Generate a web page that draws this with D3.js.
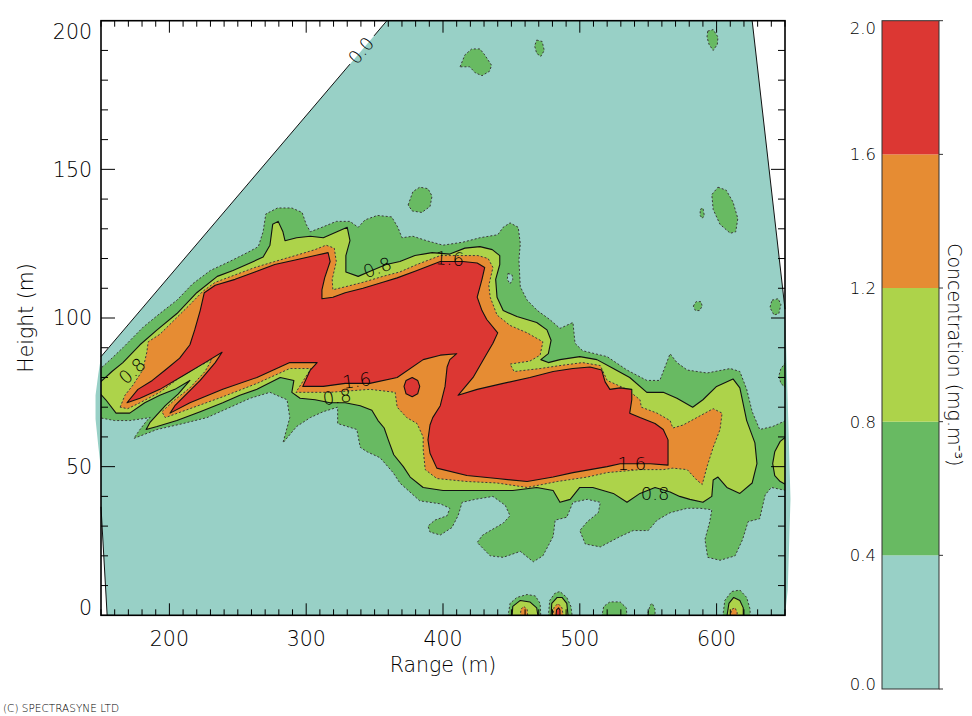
<!DOCTYPE html>
<html><head><meta charset="utf-8">
<script src="https://cdnjs.cloudflare.com/ajax/libs/d3/7.8.5/d3.min.js"></script>
<style>body{margin:0;background:#fff} svg{display:block} text{font-family:"DejaVu Sans",sans-serif;font-weight:200;fill:#000}</style>
</head><body><svg id="c" width="972" height="716"></svg>
<script>
// ---------- data (range m, height m) ----------
const xTicks=[200,300,400,500,600];
const yTicks=[0,50,100,150,200];
const cbarTicks=[0.0,0.4,0.8,1.2,1.6,2.0];
const cbarLabels=["0.0","0.4","0.8","1.2","1.6","2.0"];
const levels=[0.0,0.4,0.8,1.2,1.6];
const levelColors=["#98d0c6","#68ba62","#add34a","#e68c33","#dc3733"];

const domainArea=[[150,87],[359,200],[626,200],[650,103],[652,72],[654,39],[652,8.5],[650,0],[154.5,0],[150,36.5],[150,49],[148,57],[146,66],[146,74],[148,81]];
const edgeDiagA=[[150,87],[332,185.4]];
const edgeDiagB=[[349.6,194.9],[359,200]];
const edgeRight=[[626,200],[650,103]];
const edgeLeft=[[150,36.5],[154.5,0]];

const greenPlume=[[148.5,82.5],[158,86.5],[166,90],[181,97],[193,101.5],[205.5,106],[217,111.5],[230,116],[244,119],[257,122],[265,124],[268.5,129],[270.5,135],[279,137],[289.5,137],[297,135.5],[300,131.5],[303,129],[311.5,130.5],[322,132.5],[332,132.5],[338,130.5],[343,133],[352,134.5],[362.5,134],[367,130.5],[370,127],[378,127.5],[388,126],[400,124.5],[414.5,125.5],[427,127],[440,128],[444,130.5],[449,132],[455,130.5],[456.5,125],[455.5,119.5],[456.5,110.5],[461.5,106],[469,102.5],[478,99.5],[485.5,96.5],[495,98.5],[496.5,91.5],[502,89],[520,87],[534.5,82.5],[549,79],[558.5,79],[566,88],[571,85],[578.5,82.5],[593,81.5],[610,83],[617,82],[622,76],[626,68.5],[631.5,62.5],[641,63.5],[650.5,65.5],[650.5,42],[640,43],[635.5,40.5],[631.5,32.5],[623,31.5],[619,25.5],[613.5,20],[602.5,18.5],[593.5,19.5],[591.5,25.5],[595,31.5],[596.5,35.5],[588,36],[578.5,36],[566,34.5],[556.5,32],[550,28.5],[539,28.5],[529.5,26.5],[515,23],[504,24],[500,28.5],[505.5,31.5],[513.5,34.5],[515,38],[505.5,39],[495,38],[490.5,33],[482,32],[480.5,26.5],[473,20],[466,18],[456.5,21.5],[444,19.5],[434.5,20],[425,24.5],[429,27],[444,31],[449,33.5],[445.5,37],[436.5,40],[423.5,39],[414,38],[411,33.5],[406.5,29.5],[398,27],[390.5,28],[389,30],[394,32],[403,33.5],[405,36],[398,37.5],[383,38.5],[368.5,44.5],[363.5,48],[354,53],[344.5,55],[339.5,56.5],[337,62.5],[323,64.5],[323,70],[312.5,68.5],[303,66.5],[293,63.5],[283,58],[288,66.5],[286,72.5],[273.5,75],[259,73],[244.5,70],[227.5,66.5],[210,64.5],[191,62.5],[174,59.5],[178.5,62.5],[183.5,65.5],[186,66.5],[171,65.5],[160,65.5],[148.5,66.5]];
const greenTopA=[[412.5,184.5],[416,188.5],[421,190.5],[427,190.5],[430.5,188.5],[435.5,185],[434,183],[428.5,181.5],[423.5,182.5],[419.5,184.5]];
const greenTopB=[[468.5,193.5],[472.5,193],[474,190],[471.5,188],[468.5,189],[467,191.5]];
const greenTopC=[[593.5,196.5],[597.5,197],[601,194.5],[600.5,192],[597.5,190],[594.5,192],[593,194.5]];
const greenRightOval=[[601,144],[607,143],[612,139],[615.5,133.5],[614,129],[610,128.5],[602.5,131.5],[597.5,136.5],[596.5,141.5]];
const greenRightDot=[[588,136.5],[590,137],[591,134.5],[589.5,133.5],[588,134.5]];
const greenMidBlob=[[374.5,138],[378,142.5],[383,144],[389,143.5],[392,141],[390.5,137.5],[384.5,135.5],[377.5,136]];
const greenSmallA=[[583,104],[585,105.5],[588.5,105.5],[589.5,104],[587.5,102.5],[584.5,102.5]];
const greenSmallB=[[640.5,106],[645,106.5],[647,104.5],[645.5,101.5],[642,101],[639,103.5]];
const greenEdge=[[650.5,85],[647,83],[645.5,80.5],[647,78],[650.5,76.5]];
const greenBase1=[[447.5,-0.5],[449,4],[454,6],[461.5,7],[467.5,6.5],[471,4],[471.5,-0.5]];
const greenBase2=[[477,-0.5],[478,5],[482,7.5],[485.5,8],[490.5,6],[493.5,3],[494.5,-0.5]];
const greenBase3=[[516,-0.5],[517.5,3],[522,4.5],[529.5,4.5],[534,2.5],[534.5,-0.5]];
const greenBase4=[[549,-0.5],[551.5,3.5],[553,4],[555,2],[555,-0.5]];
const greenBase5=[[604.5,-0.5],[606,5],[611,8],[617,8.5],[622,6],[624.5,2],[624.5,-0.5]];

const yellowPlume=[[148.5,78],[158,82],[166,85],[178.5,91],[191,96],[205.5,101.5],[220,108.5],[235,114],[246.5,116],[259,118.5],[268.5,120.5],[273.5,124.5],[275.5,131.5],[279.5,132.5],[283,129],[284.5,126],[293,127],[303,127.5],[312.5,127],[322.5,129],[330,130.5],[332,126],[329,121],[329,115.5],[338,114],[348,116],[358.5,118],[368.5,119],[379.5,121],[392,122],[405,121.5],[416,123.5],[427,124],[436,123],[441.5,121],[441.5,118],[438.5,113],[439.5,107],[444,102.5],[454,100.5],[468.5,98.5],[476,96],[479,92.5],[477,88],[471.5,86],[477,85],[485.5,86],[500,87],[512.5,86],[524.5,83],[536.5,80],[549,75],[561,75],[571,73],[582.5,70],[590,72.5],[600,77],[612,79.5],[617,76.5],[622,65.5],[628,58],[629.5,51],[626,44.5],[617,41],[607.5,43],[601,46.5],[597.5,45.5],[596.5,40],[590,38],[580.5,39],[573,40],[566,41.5],[555,43],[544,41],[534.5,38],[524.5,41],[509.5,43],[500,43],[493,39],[485.5,38],[480.5,42],[468.5,43],[451,42],[434.5,42],[414.5,42],[400,42],[385.5,43],[376,46.5],[371,50],[364,54],[360,59],[357,63],[352.5,65.5],[348,69],[339.5,70.5],[328.5,71.5],[317.5,71.5],[306.5,72.5],[295.5,73],[289.5,75],[291,79],[281,80],[264,76],[251.5,74],[239,71.5],[222.5,68.5],[205.5,65.5],[191,63.5],[183,62.5],[186,65],[197,70.5],[206.5,74.5],[215,79],[204,76],[193,74],[182,71.5],[171,68],[161,68],[153.5,72.5],[148.5,75]];
const yellowEdge=[[650.5,60],[646.5,58.5],[642.5,55],[641,51],[642.5,47],[646.5,45],[650.5,44]];
const yellowBase1=[[450.5,-0.5],[451,3],[456.5,5],[463.5,4.5],[468.5,2.5],[469.5,-0.5]];
const yellowBase2=[[479,-0.5],[479.5,4],[483.5,6],[487,6],[490.5,4],[491.5,-0.5]];
const yellowBase5=[[607.5,-0.5],[609,4],[612.5,6],[617,5],[619.5,2.5],[619.5,-0.5]];

const orangePlume=[[164,70],[167.5,74],[173.5,77.5],[180.5,82.5],[183.5,88.5],[184.5,92],[193,94.5],[204,99.5],[215,104.5],[224.5,109],[233.5,112],[248,114.5],[262.5,117],[277,119],[292,121],[306.5,123],[314.5,124.5],[320.5,123.5],[322,119],[319,113],[319.5,109.5],[328.5,110.5],[341.5,112],[356,114],[368.5,115.5],[381,118],[398,121],[414.5,121],[425.5,121],[433,120],[436.5,117],[433.5,111],[434.5,107],[439.5,101],[449,97.5],[461.5,95],[473,92],[471,87.5],[463.5,85.5],[449,84.5],[452,82],[471,83],[485.5,84],[502,85],[515,84],[520,79],[534.5,76],[544,72.5],[545,70],[556.5,68],[566,65.5],[568,63],[575.5,64],[585.5,66.5],[597.5,69.5],[604,68],[602.5,62.5],[597.5,56.5],[593,50],[589.5,44],[585.5,45.5],[578.5,49],[568,49.5],[561,49],[544,49],[520,48],[505.5,46.5],[483.5,45],[461.5,43],[439.5,44.5],[417.5,45],[395.5,46],[387,49],[385.5,56],[385.5,60],[381,64.5],[373.5,66.5],[366.5,70],[365,75],[346.5,76],[317.5,75],[303,75],[292.5,75],[303.5,83],[288,83],[264,78],[239,73.5],[215,69.5],[197,66.5],[194.5,68.5],[204,72.5],[215,76.5],[226,82],[231,86],[222.5,84],[207.5,80],[193,75],[178.5,71.5],[169.5,69.5]];
const orangeBase1=[[456.5,-0.5],[457,2],[459,3],[461.5,2],[462,-0.5]];
const orangeBase2=[[480.5,-0.5],[481,2.5],[484,4],[487,2.5],[488,-0.5]];
const orangeBase5=[[610,-0.5],[611,2],[613.5,2.5],[615,1],[615,-0.5]];

const redPlume=[[169,71.5],[177,76],[187.5,79],[197,82.5],[207.5,86.5],[215,91],[218.5,96],[222.5,102.5],[225.5,108.5],[233.5,111],[248,113],[262.5,115.5],[277,118],[292,119.5],[306.5,121],[316,122],[317.5,119],[313.5,113.5],[311.5,109.5],[311.5,106.5],[319.5,107],[328.5,108.5],[341.5,110],[356,112],[366.5,113.5],[381,116],[398,119],[414.5,119],[425,118.5],[430.5,117],[428.5,113],[425,107],[428.5,102.5],[432,99.5],[440,95],[436.5,91.5],[432,88],[422,80],[411,74],[425,76],[444,78],[463.5,80],[480.5,82],[495,83],[507.5,83.5],[516,82.5],[518.5,78.5],[522,76],[529.5,76.5],[538,76],[538,72.5],[536.5,68],[544,66.5],[555,64.5],[561,62.5],[564.5,59],[564.5,50.5],[551.5,51],[529.5,51],[520,50],[495,48],[480.5,46.5],[461.5,45],[439.5,46],[417.5,47],[395.5,49.5],[390.5,54.5],[389,59],[390.5,64],[392.5,66.5],[398,70.5],[401.5,77],[403,83.5],[405,86],[410,88],[398,87.5],[385.5,86],[366.5,80],[346.5,78],[328.5,78],[312.5,77],[297.5,77],[303,82.5],[308,85],[288,85],[264,80],[239,76],[215,71.5],[200.5,68],[204,70.5],[211.5,74],[222.5,79],[233.5,85],[238.5,88.5],[226,85],[211.5,81],[193,76],[178.5,73]];
const redEye=[[371.5,77],[373,79],[377.5,80],[381.5,79],[383,77],[381.5,74.5],[377.5,73.5],[373,74.5]];
const redBase2=[[482.5,-0.5],[483,1.8],[484.5,2.5],[485.5,1.8],[485.5,-0.5]];

const tealHole=[[447.5,115],[450.5,114.5],[451,113],[449,111.5],[447,113]];

const labelText=["0.8","1.6","1.6","0.8","1.6","0.8","0.8","0.0"];
const labelRange=[352,405,337,322.5,538,555,172.7,340];
const labelHeight=[117,120,79,73.5,51,41,82.2,190];
const labelAngle=[-20,4,-8,-8,0,0,-42,-50];

// ---------- drawing ----------
const svg=d3.select("#c");
const x=d3.scaleLinear().domain([150,650]).range([101,785]);
const y=d3.scaleLinear().domain([0,200]).range([615.3,20.7]);
const line=d3.line().x(d=>x(d[0])).y(d=>y(d[1]));
const closed=p=>line(p)+"Z";
const colorOf=d3.scaleThreshold().domain([0.4,0.8,1.2,1.6]).range(levelColors);

svg.append("defs").append("clipPath").attr("id","plot").append("rect")
  .attr("x",x(150)).attr("y",y(200)).attr("width",x(650)-x(150)).attr("height",y(0)-y(200));

svg.append("path").attr("d",closed(domainArea)).attr("fill",colorOf(0));

const shapes=[
 [0.4,greenPlume],[0.4,greenTopA],[0.4,greenTopB],[0.4,greenTopC],[0.4,greenRightOval],[0.4,greenRightDot],
 [0.4,greenMidBlob],[0.4,greenSmallA],[0.4,greenSmallB],[0.4,greenEdge],
 [0.4,greenBase1],[0.4,greenBase2],[0.4,greenBase3],[0.4,greenBase4],[0.4,greenBase5],
 [0.8,yellowPlume],[0.8,yellowEdge],[0.8,yellowBase1],[0.8,yellowBase2],[0.8,yellowBase5],
 [1.2,orangePlume],[1.2,orangeBase1],[1.2,orangeBase2],[1.2,orangeBase5],
 [1.6,redPlume],[1.6,redEye],[1.6,redBase2]
];
const g=svg.append("g").attr("clip-path","url(#plot)");
shapes.forEach(([lv,pts])=>{
  const dashed=(lv===0.4||lv===1.2);
  g.append("path").attr("d",closed(pts)).attr("fill",colorOf(lv))
   .attr("stroke",dashed?"#3a3a3a":"#111").attr("stroke-width",dashed?1:1.1)
   .attr("stroke-dasharray",dashed?"2,2":null).attr("stroke-linejoin","round");
});
g.append("path").attr("d",closed(tealHole)).attr("fill",colorOf(0)).attr("stroke","#3a3a3a").attr("stroke-dasharray","2,2");

[edgeDiagA,edgeDiagB,edgeRight,edgeLeft].forEach(p=>{
  svg.append("path").attr("d",line(p)).attr("fill","none").attr("stroke","#111").attr("stroke-width",1);
});

labelText.forEach((t,i)=>{
  svg.append("text").attr("transform",`translate(${x(labelRange[i])},${y(labelHeight[i])}) rotate(${labelAngle[i]})`)
    .attr("text-anchor","middle").attr("dominant-baseline","central")
    .attr("font-size",18).text(t);
});

const ax=svg.append("g");
ax.append("rect").attr("x",x(150)).attr("y",y(200)).attr("width",x(650)-x(150)).attr("height",y(0)-y(200))
  .attr("fill","none").attr("stroke","#000").attr("stroke-width",1.6);
d3.range(150,651,10).forEach(v=>{
  const L=v%100===0?12:6;
  ax.append("line").attr("x1",x(v)).attr("x2",x(v)).attr("y1",y(0)).attr("y2",y(0)-L).attr("stroke","#000");
  ax.append("line").attr("x1",x(v)).attr("x2",x(v)).attr("y1",y(200)).attr("y2",y(200)+L).attr("stroke","#000");
});
d3.range(0,201,10).forEach(v=>{
  const L=v%50===0?14:7;
  ax.append("line").attr("x1",x(150)).attr("x2",x(150)+L).attr("y1",y(v)).attr("y2",y(v)).attr("stroke","#000");
  ax.append("line").attr("x1",x(650)).attr("x2",x(650)-L).attr("y1",y(v)).attr("y2",y(v)).attr("stroke","#000");
});
xTicks.forEach(v=>{
  ax.append("text").attr("x",x(v)).attr("y",646).attr("text-anchor","middle").attr("font-size",20.5).text(v);
});
yTicks.forEach(v=>{
  const base=Math.max(39.3,Math.min(615,y(v)+7.4));
  ax.append("text").attr("x",92).attr("y",base).attr("text-anchor","end").attr("font-size",20.5).text(v);
});
ax.append("text").attr("x",(x(150)+x(650))/2).attr("y",672).attr("text-anchor","middle").attr("font-size",20.5).text("Range (m)");
ax.append("text").attr("transform",`translate(33,${(y(0)+y(200))/2}) rotate(-90)`).attr("text-anchor","middle").attr("font-size",20.5).text("Height (m)");

const cy=d3.scaleLinear().domain([0,2]).range([689,20.7]);
const cb=svg.append("g");
levels.forEach((lv,i)=>{
  cb.append("rect").attr("x",882).attr("width",57).attr("y",cy(cbarTicks[i+1])).attr("height",cy(cbarTicks[i])-cy(cbarTicks[i+1]))
    .attr("fill",levelColors[i]);
});
cb.append("rect").attr("x",882).attr("width",57).attr("y",cy(2)).attr("height",cy(0)-cy(2)).attr("fill","none").attr("stroke","#333").attr("stroke-width",1);
cbarTicks.forEach((v,i)=>{
  const base=Math.max(34,Math.min(690,cy(v)+6));
  cb.append("text").attr("x",876).attr("y",base).attr("text-anchor","end").attr("font-size",16.5).text(cbarLabels[i]);
  cb.append("line").attr("x1",939).attr("x2",943).attr("y1",cy(v)).attr("y2",cy(v)).attr("stroke","#333");
});
cb.append("text").attr("transform",`translate(948,${(cy(0)+cy(2))/2}) rotate(90)`).attr("text-anchor","middle").attr("font-size",19).text("Concentration (mg.m⁻³)");

svg.append("text").attr("x",3).attr("y",712).attr("font-size",10.5).text("(C) SPECTRASYNE LTD");
</script></body></html>
